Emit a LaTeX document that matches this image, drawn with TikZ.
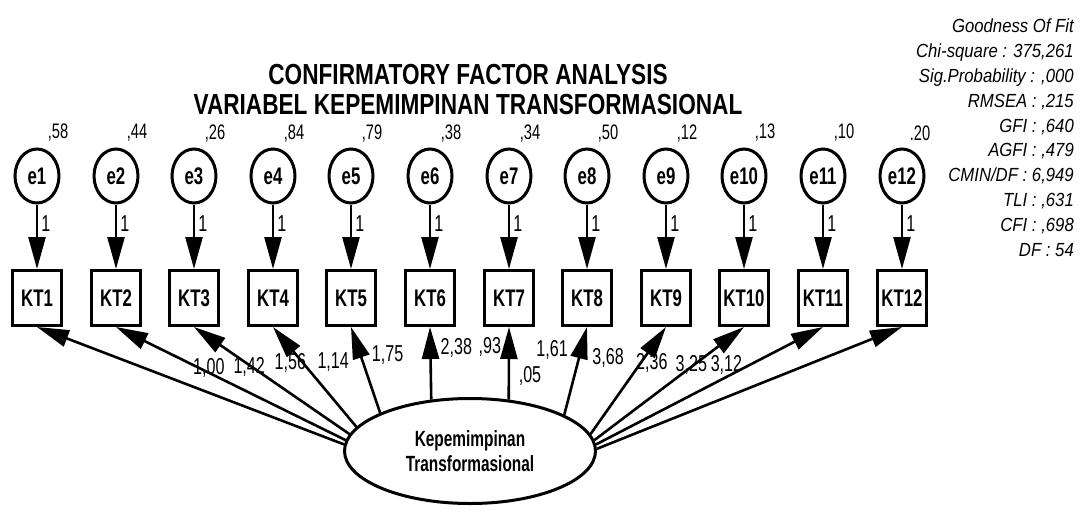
\documentclass[tikz,border=0pt]{standalone}
\usepackage{fontspec}
\setmainfont{Liberation Sans}
\newfontfamily\diagfont[FakeStretch=0.7]{Liberation Sans}
\newfontfamily\titlefont[FakeStretch=0.78]{Liberation Sans}
\newfontfamily\fitfont[FakeStretch=0.88]{Liberation Sans}
\usetikzlibrary{shapes,arrows.meta}

\begin{document}
\begin{tikzpicture}[x=1pt, y=-1pt,
    errvar/.style={draw, ellipse, line width=3pt, minimum width=44pt, minimum height=54pt, inner sep=0pt,
        font=\diagfont\bfseries\fontsize{24}{24}\selectfont},
    indicator/.style={draw, rectangle, line width=3pt, minimum width=49pt, minimum height=55pt, inner sep=0pt,
        font=\diagfont\bfseries\fontsize{24}{24}\selectfont},
    latent/.style={draw, ellipse, line width=3pt, minimum width=251pt, minimum height=105pt, align=center,
        font=\diagfont\bfseries\fontsize{22}{25}\selectfont},
    regarrow/.style={line width=2.6pt, -{Triangle[length=32pt,width=17pt]}},
    weight/.style={inner sep=0pt, font=\diagfont\fontsize{23}{23}\selectfont},
    varlabel/.style={inner sep=0pt, font=\diagfont\fontsize{21}{21}\selectfont},
    fixone/.style={anchor=west, xshift=3pt, inner sep=0pt, font=\diagfont\fontsize{23}{23}\selectfont},
]
        \useasboundingbox (0,0) rectangle (1082,509);

        \node[inner sep=0pt, align=center, font=\titlefont\bfseries\fontsize{29}{30}\selectfont] (title) at (468,90) {
            CONFIRMATORY FACTOR ANALYSIS\\
            VARIABEL KEPEMIMPINAN TRANSFORMASIONAL
        };
        \node[anchor=north east, inner sep=0pt, align=right, font=\fitfont\itshape\fontsize{19}{24.8}\selectfont] (fit) at (1074,19) {
            Goodness Of Fit\\
            Chi-square : 375,261\\
            Sig.Probability : ,000\\
            RMSEA : ,215\\
            GFI : ,640\\
            AGFI : ,479\\
            CMIN/DF : 6,949\\
            TLI : ,631\\
            CFI : ,698\\
            DF : 54
        };

        % error terms
        \node[errvar] (e1) at (37,176) {e1};
        \node[errvar] (e2) at (116,176) {e2};
        \node[errvar] (e3) at (194,176) {e3};
        \node[errvar] (e4) at (273,176) {e4};
        \node[errvar] (e5) at (351,176) {e5};
        \node[errvar] (e6) at (430,176) {e6};
        \node[errvar] (e7) at (509,176) {e7};
        \node[errvar] (e8) at (587,176) {e8};
        \node[errvar] (e9) at (666,176) {e9};
        \node[errvar] (e10) at (744,176) {e10};
        \node[errvar] (e11) at (823,176) {e11};
        \node[errvar] (e12) at (902,176) {e12};

        \node[varlabel] (v1) at (58,133) {,58};
        \node[varlabel] (v2) at (137,133) {,44};
        \node[varlabel] (v3) at (215,134) {,26};
        \node[varlabel] (v4) at (294,134) {,84};
        \node[varlabel] (v5) at (372,134) {,79};
        \node[varlabel] (v6) at (451,134) {,38};
        \node[varlabel] (v7) at (530,134) {,34};
        \node[varlabel] (v8) at (608,134) {,50};
        \node[varlabel] (v9) at (687,134) {,12};
        \node[varlabel] (v10) at (765,133) {,13};
        \node[varlabel] (v11) at (844,133) {,10};
        \node[varlabel] (v12) at (920,133) {.20};

        % indicators
        \node[indicator] (KT1) at (37,298) {KT1};
        \node[indicator] (KT2) at (116,298) {KT2};
        \node[indicator] (KT3) at (194,298) {KT3};
        \node[indicator] (KT4) at (273,298) {KT4};
        \node[indicator] (KT5) at (351,298) {KT5};
        \node[indicator] (KT6) at (430,298) {KT6};
        \node[indicator] (KT7) at (509,298) {KT7};
        \node[indicator] (KT8) at (587,298) {KT8};
        \node[indicator] (KT9) at (666,298) {KT9};
        \node[indicator] (KT10) at (744,298) {KT10};
        \node[indicator] (KT11) at (823,298) {KT11};
        \node[indicator] (KT12) at (902,298) {KT12};

        \node[latent] (kepemimpinan) at (470,451) {
            Kepemimpinan\\
            Transformasional
        };
        \node[weight] (latvar) at (530,376) {,05};

        \draw[regarrow] (e1) to node[fixone, pos=0.3] {1} (KT1);
        \draw[regarrow] (e2) to node[fixone, pos=0.3] {1} (KT2);
        \draw[regarrow] (e3) to node[fixone, pos=0.3] {1} (KT3);
        \draw[regarrow] (e4) to node[fixone, pos=0.3] {1} (KT4);
        \draw[regarrow] (e5) to node[fixone, pos=0.3] {1} (KT5);
        \draw[regarrow] (e6) to node[fixone, pos=0.3] {1} (KT6);
        \draw[regarrow] (e7) to node[fixone, pos=0.3] {1} (KT7);
        \draw[regarrow] (e8) to node[fixone, pos=0.3] {1} (KT8);
        \draw[regarrow] (e9) to node[fixone, pos=0.3] {1} (KT9);
        \draw[regarrow] (e10) to node[fixone, pos=0.3] {1} (KT10);
        \draw[regarrow] (e11) to node[fixone, pos=0.3] {1} (KT11);
        \draw[regarrow] (e12) to node[fixone, pos=0.3] {1} (KT12);

        \draw[regarrow] (kepemimpinan.177) to node[weight, pos=0.44, yshift=25pt] {1,00} (KT1.south);
        \draw[regarrow] (kepemimpinan.175) to node[weight, pos=0.42, yshift=26pt] {1,42} (KT2.south);
        \draw[regarrow] (kepemimpinan.172) to node[weight, pos=0.38, yshift=30pt] {1,56} (KT3.south);
        \draw[regarrow] (kepemimpinan.168) to node[weight, pos=0.65, xshift=31pt] {1,14} (KT4.south);
        \draw[regarrow] (kepemimpinan.157) to node[weight, pos=0.67, xshift=27pt] {1,75} (KT5.south);
        \draw[regarrow] (kepemimpinan.127) to node[weight, pos=0.71, xshift=26pt] {2,38} (KT6.south);
        \draw[regarrow] (kepemimpinan.53) to node[weight, pos=0.73, xshift=-19pt] {,93} (KT7.south);
        \draw[regarrow] (kepemimpinan.21) to node[weight, pos=0.74, xshift=-29pt] {1,61} (KT8.south);
        \draw[regarrow] (kepemimpinan.8) to node[weight, pos=0.71, xshift=-36pt] {3,68} (KT9.south);
        \draw[regarrow] (kepemimpinan.5) to node[weight, pos=0.685, xshift=-45pt] {2,36} (KT10.south);
        \draw[regarrow] (kepemimpinan.3) to node[weight, pos=0.68, xshift=-59pt] {3,25} (KT11.south);
        \draw[regarrow] (kepemimpinan.1) to node[weight, pos=0.69, xshift=-81pt] {3,12} (KT12.south);
\end{tikzpicture}
\end{document}
